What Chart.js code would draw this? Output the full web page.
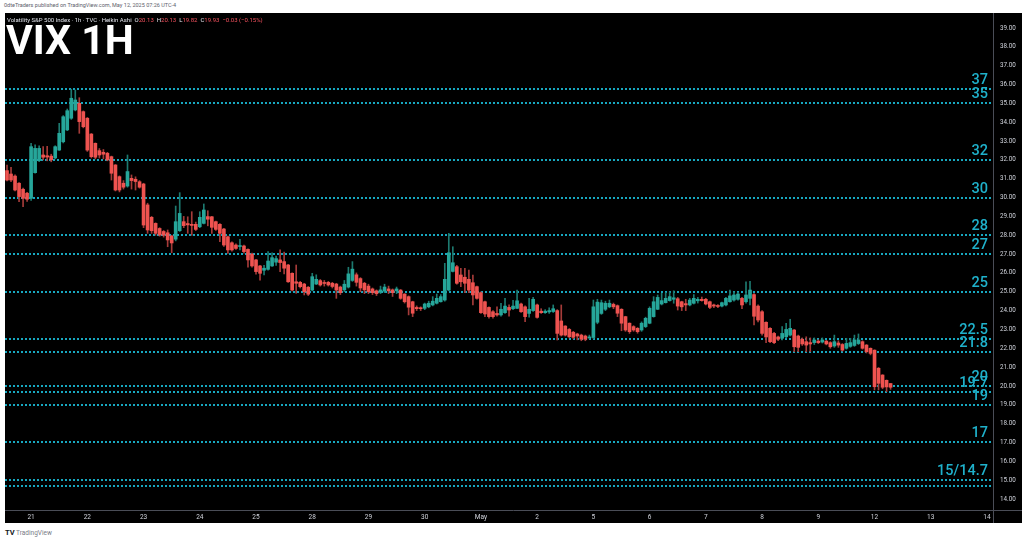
<!DOCTYPE html>
<html>
<head>
<meta charset="utf-8">
<title>VIX 1H</title>
<script src="https://cdn.jsdelivr.net/npm/chart.js@4.4.1/dist/chart.umd.min.js"></script>
<style>
  html, body { margin: 0; padding: 0; background: #fff; }
  body { width: 1024px; height: 541px; position: relative; overflow: hidden; font-family: Roboto, "Noto Sans", sans-serif; }
  #pub { position: absolute; left: 4px; top: 3px; font-size: 5.5px; line-height: 1; color: #5d606b; white-space: nowrap; }
  #frame { position: absolute; left: 5px; top: 13px; width: 1017px; height: 510px; background: #000; }
  #vix { position: absolute; left: -1px; top: 1px; }
  #legend { position: absolute; left: 7px; top: 17px; font-size: 6px; line-height: 1; color: #e0e3eb; white-space: nowrap; }
  #legend .v { color: #f7525f; }
  #title { position: absolute; left: 6px; top: 20px; font-size: 41px; line-height: 1; font-weight: 700; color: #fff; }
  #brand { position: absolute; left: 5px; top: 529px; font-size: 6.5px; line-height: 1; color: #787b86; white-space: nowrap; }
  #brand b { color: #131722; font-size: 7.5px; }
</style>
</head>
<body>
<div id="pub">0dteTraders published on TradingView.com, May 12, 2025 07:26 UTC-4</div>
<div id="frame"></div>
<canvas id="vix" width="1023" height="522"></canvas>
<div id="legend">Volatility S&amp;P 500 Index · 1h · TVC · Heikin Ashi &nbsp;O<span class="v">20.13</span> &nbsp;H<span class="v">20.13</span> &nbsp;L<span class="v">19.82</span> &nbsp;C<span class="v">19.93</span> &nbsp;<span class="v">−0.03 (−0.15%)</span></div>
<div id="title">VIX 1H</div>
<div id="brand"><b>TV</b> TradingView</div>
<script>
// heikin ashi hourly bars (index 6 = Apr 21 first bar)
var openVals = [
  31.43,31.25,31.14,30.76,30.44,30.23,29.96,31.32,31.96,32.26,
  32.22,32.20,32.10,32.52,32.96,33.59,34.21,34.65,35.00,34.56,
  34.21,33.37,32.88,32.49,32.40,32.35,32.17,31.73,31.11,30.76,
  30.61,31.02,30.97,30.84,30.72,29.61,28.95,28.63,28.36,28.20,
  28.13,27.96,27.79,28.24,28.72,28.62,28.58,28.58,28.45,28.63,
  28.99,28.98,28.72,28.58,28.33,27.92,27.60,27.48,27.40,27.43,
  27.25,27.00,26.69,26.37,26.14,26.19,26.37,26.57,26.69,26.60,
  26.42,25.98,25.53,25.50,25.41,25.24,25.09,25.41,25.59,25.48,
  25.50,25.45,25.41,25.25,25.10,25.25,25.60,25.90,25.70,25.45,
  25.30,25.15,25.05,24.97,25.03,25.15,25.10,25.05,25.09,24.88,
  24.74,24.47,24.17,24.13,24.12,24.20,24.30,24.39,24.47,24.56,
  25.09,26.08,26.33,25.89,25.77,25.66,25.48,25.27,24.95,24.47,
  24.17,23.94,23.85,23.77,23.89,24.17,24.10,24.12,24.35,24.20,
  23.85,24.00,24.30,23.97,23.89,23.93,23.95,24.00,23.45,23.18,
  23.00,22.85,22.76,22.70,22.65,22.55,22.57,23.38,23.85,24.07,
  24.20,24.33,24.26,24.07,23.68,23.33,23.15,23.06,22.97,23.15,
  23.33,23.68,24.07,24.35,24.42,24.53,24.60,24.63,24.47,24.37,
  24.30,24.39,24.52,24.60,24.60,24.47,24.30,24.27,24.24,24.30,
  24.47,24.56,24.60,24.65,24.47,24.65,24.85,24.24,23.94,23.38,
  23.06,22.79,22.60,22.53,22.61,22.70,22.97,22.65,22.48,22.35,
  22.30,22.30,22.38,22.33,22.38,22.30,22.12,22.28,22.20,22.00,
  22.10,22.15,22.25,22.35,22.17,22.00,21.90,20.94,20.58,20.30,
  20.13
];
var highVals = [
  31.73,31.60,31.20,30.80,30.50,30.28,32.88,32.80,32.75,32.70,
  32.72,32.30,32.75,33.94,34.35,34.70,35.75,35.71,35.30,34.60,
  34.25,33.40,32.90,32.60,32.55,32.40,32.20,31.75,31.15,30.90,
  32.26,31.20,31.10,30.90,30.76,29.70,29.00,28.66,28.40,28.25,
  28.28,28.00,29.55,30.26,29.00,28.98,29.25,28.70,29.25,29.66,
  29.30,29.00,28.75,28.62,28.36,27.95,27.65,27.55,27.78,27.48,
  27.28,27.05,26.72,26.40,26.40,27.13,27.07,26.90,27.22,27.10,
  26.45,26.00,26.42,25.55,25.45,25.28,25.98,25.90,25.65,25.60,
  25.55,25.50,25.45,25.30,25.60,26.30,26.60,26.00,25.75,25.50,
  25.40,25.20,25.10,25.30,25.40,25.30,25.15,25.25,25.12,24.90,
  24.78,24.50,24.25,24.20,24.40,24.50,24.74,24.88,24.85,26.51,
  28.10,27.39,26.40,26.25,26.25,26.15,25.89,25.30,25.00,24.50,
  24.20,24.00,24.20,24.39,24.65,24.30,24.55,25.09,24.40,24.25,
  24.65,24.70,24.35,24.10,24.05,24.15,24.30,24.05,24.30,23.20,
  23.05,22.90,22.80,22.75,22.70,22.70,24.56,24.60,24.56,24.50,
  24.56,24.40,24.30,24.10,23.70,23.35,23.20,23.10,23.40,23.65,
  24.20,24.74,24.83,24.92,24.95,25.00,25.05,24.70,24.50,24.60,
  24.65,24.85,24.70,24.72,24.65,24.50,24.35,24.32,24.45,24.70,
  25.09,25.00,24.95,24.70,25.53,25.55,24.90,24.30,24.00,23.40,
  23.10,22.85,22.65,23.15,23.33,23.54,23.00,22.70,22.55,22.61,
  22.55,22.55,22.45,22.55,22.42,22.35,22.70,22.40,22.25,22.53,
  22.53,22.70,22.76,22.40,22.20,22.02,21.92,20.98,20.60,20.32,
  20.13
];
var lowVals = [
  30.88,30.84,30.35,29.78,29.51,29.80,29.85,31.30,31.90,32.00,
  31.95,31.90,32.05,32.50,32.90,33.55,34.15,34.60,33.41,33.70,
  32.45,32.10,32.05,32.10,32.05,31.95,30.93,30.35,30.30,30.45,
  30.55,30.45,30.40,30.50,28.40,28.10,28.10,28.00,27.95,27.90,
  27.39,27.07,27.70,28.20,28.40,28.10,28.00,28.25,28.40,28.60,
  28.50,28.10,28.25,27.66,27.40,27.04,27.15,27.25,27.22,27.05,
  26.30,26.30,25.93,25.62,25.90,26.15,26.35,26.40,26.07,25.95,
  25.50,25.05,24.92,25.20,24.83,24.80,25.05,25.38,25.30,25.30,
  25.30,25.20,24.65,24.85,25.00,25.20,25.55,25.30,25.00,24.90,
  24.90,24.85,24.80,24.90,24.95,24.90,24.75,24.90,24.60,24.40,
  23.77,23.68,24.00,24.00,24.05,24.15,24.25,24.35,24.45,24.50,
  25.05,26.05,25.40,25.27,24.95,24.95,24.30,24.60,23.85,23.68,
  23.60,23.60,23.70,23.70,23.85,23.70,24.05,24.10,23.90,23.41,
  23.65,23.95,23.60,23.85,23.85,23.85,23.90,22.44,22.65,22.65,
  22.55,22.50,22.45,22.40,22.40,22.50,22.50,23.30,23.80,24.00,
  24.15,24.10,23.68,22.93,22.90,22.79,22.90,22.80,22.90,23.10,
  23.30,23.65,24.05,24.30,24.40,24.50,24.39,24.03,24.00,24.00,
  24.25,24.35,24.40,24.50,24.30,24.10,24.15,24.15,24.20,24.25,
  24.45,24.50,24.55,24.10,24.40,24.30,23.24,23.40,22.70,22.30,
  22.30,22.25,22.40,22.45,22.55,22.65,21.82,21.82,22.15,21.82,
  21.82,22.20,22.25,22.28,22.18,22.00,22.05,22.05,21.85,21.95,
  22.05,22.10,22.20,21.95,21.75,21.65,19.79,19.79,19.85,19.70,
  19.82
];
var closeVals = [
  30.93,30.93,30.40,30.05,29.96,29.91,32.70,32.61,32.61,32.14,
  32.15,32.00,32.70,33.41,34.29,34.61,35.27,35.18,34.03,33.76,
  32.52,32.17,32.14,32.26,32.30,32.00,31.29,30.40,30.40,30.55,
  31.38,30.90,30.85,30.55,28.54,28.28,28.24,28.10,28.01,28.00,
  27.75,27.59,28.72,29.16,28.51,28.55,28.52,28.31,28.95,29.34,
  28.85,28.42,28.31,28.10,27.48,27.22,27.22,27.30,27.45,27.13,
  26.69,26.37,26.07,25.98,26.25,26.63,26.81,26.76,26.55,26.25,
  25.53,25.09,25.45,25.27,25.00,24.87,25.80,25.66,25.36,25.44,
  25.36,25.28,25.09,24.95,25.40,25.95,26.20,25.50,25.20,25.10,
  25.00,24.95,24.90,25.10,25.25,25.05,24.95,25.15,24.65,24.47,
  24.18,23.86,24.10,24.10,24.35,24.39,24.50,24.65,24.74,25.66,
  27.07,26.54,25.45,25.53,25.45,25.09,24.83,24.65,23.89,23.82,
  23.68,23.68,23.77,24.07,24.24,24.03,24.24,24.52,23.94,23.68,
  24.07,24.60,23.64,23.89,23.97,24.00,24.10,22.79,22.70,22.70,
  22.61,22.58,22.65,22.48,22.48,22.60,24.20,24.45,24.42,24.39,
  24.39,24.20,23.86,23.33,22.97,22.88,22.97,22.88,23.33,23.59,
  24.12,24.47,24.70,24.53,24.65,24.74,24.68,24.24,24.20,24.30,
  24.56,24.65,24.60,24.53,24.35,24.17,24.24,24.22,24.42,24.65,
  24.78,24.83,24.88,24.30,24.83,25.09,23.70,23.50,22.79,22.60,
  22.35,22.30,22.48,22.79,23.00,23.06,22.08,22.05,22.23,22.17,
  22.23,22.44,22.30,22.44,22.23,22.08,22.35,22.17,21.90,22.26,
  22.30,22.44,22.44,22.00,21.82,21.73,19.96,20.14,19.93,19.95,
  19.93
];

// time axis: bar slot where each session starts
var slotCount = 246;
var dayStarts = [6, 20, 34, 48, 62, 76, 90, 104, 118, 132, 146, 160, 174, 188, 202, 216, 230, 244];
var dayNames = ['21', '22', '23', '24', '25', '28', '29', '30', 'May', '2', '5', '6', '7', '8', '9', '12', '13', '14'];

// drawn levels and their tags
var levelValues = [35.75, 35, 32, 30, 28, 27, 25, 22.5, 21.8, 20, 19.7, 19, 17, 15, 14.7, 12.5];
var levelTexts = ['37', '35', '32', '30', '28', '27', '25', '22.5', '21.8', '20', '19.7', '19', '17', '15/14.7', '', '12.5'];

var upColor = '#26a69a', downColor = '#ef5350';
var upWick = '#1d7a70', downWick = '#a53b39';
var cyan = '#17a8c0';

var slots = [];
for (var s = 0; s < slotCount; s++) slots.push(s);

var wicks = lowVals.map(function (l, i) { return [l, highVals[i]]; });
var bodies = openVals.map(function (o, i) { return [o, closeVals[i]]; });
var bodyColors = openVals.map(function (o, i) { return closeVals[i] >= o ? upColor : downColor; });
var wickColors = openVals.map(function (o, i) { return closeVals[i] >= o ? upWick : downWick; });

var levelPlugin = {
  id: 'levels',
  beforeDatasetsDraw: function (chart) {
    var ctx = chart.ctx, a = chart.chartArea, y = chart.scales.y;
    ctx.save();
    ctx.beginPath();
    ctx.rect(a.left, a.top, a.right - a.left, a.bottom - a.top);
    ctx.clip();
    ctx.strokeStyle = cyan;
    ctx.lineWidth = 2;
    ctx.setLineDash([2, 2]);
    levelValues.forEach(function (v) {
      var py = Math.round(y.getPixelForValue(v));
      ctx.beginPath();
      ctx.moveTo(a.left, py);
      ctx.lineTo(a.right, py);
      ctx.stroke();
    });
    ctx.restore();
  },
  afterDatasetsDraw: function (chart) {
    var ctx = chart.ctx, a = chart.chartArea, y = chart.scales.y;
    ctx.save();
    ctx.beginPath();
    ctx.rect(a.left, a.top, a.right - a.left, a.bottom - a.top);
    ctx.clip();
    ctx.font = '500 14.5px Roboto';
    ctx.fillStyle = '#1fb1cb';
    ctx.textAlign = 'right';
    ctx.textBaseline = 'alphabetic';
    levelValues.forEach(function (v, i) {
      if (!levelTexts[i]) return;
      var py = Math.round(y.getPixelForValue(v));
      ctx.fillText(levelTexts[i], a.right - 5, py - 5);
    });
    ctx.restore();
  },
  afterDraw: function (chart) {
    var ctx = chart.ctx, a = chart.chartArea;
    ctx.save();
    ctx.strokeStyle = '#4a4d57';
    ctx.lineWidth = 1;
    ctx.beginPath();
    ctx.moveTo(a.right + 0.5, a.top);
    ctx.lineTo(a.right + 0.5, chart.height);
    ctx.moveTo(a.left, a.bottom + 0.5);
    ctx.lineTo(chart.width, a.bottom + 0.5);
    ctx.stroke();
    ctx.restore();
  }
};

var ctxi = document.getElementById('vix');

var vixChart = new Chart(ctxi, {
  type: 'bar',
  data: {
    labels: slots,
    datasets: [{
      label: 'wick',
      data: wicks,
      backgroundColor: wickColors,
      barThickness: 1,
      grouped: false,
      order: 2
    }, {
      label: 'body',
      data: bodies,
      backgroundColor: bodyColors,
      barThickness: 3,
      minBarLength: 1,
      grouped: false,
      order: 1
    }]
  },
  options: {
    responsive: false,
    animation: false,
    layout: { padding: { left: 6, top: 12, right: 0, bottom: 0 } },
    plugins: { legend: { display: false }, tooltip: { enabled: false } },
    scales: {
      x: {
        grid: { display: false, drawTicks: false },
        border: { display: false },
        ticks: {
          autoSkip: false,
          maxRotation: 0,
          padding: 3,
          color: '#d1d4dc',
          font: { family: 'Roboto', size: 6.5 },
          callback: function (v, i) {
            var k = dayStarts.indexOf(i);
            return k < 0 ? null : dayNames[k];
          }
        },
        afterFit: function (scale) { scale.height = 13; }
      },
      y: {
        position: 'right',
        min: 13.416,
        max: 39.796,
        grid: { display: false, drawTicks: false },
        border: { display: false },
        ticks: {
          stepSize: 1,
          includeBounds: false,
          crossAlign: 'near',
          padding: 7,
          color: '#d1d4dc',
          font: { family: 'Roboto', size: 6.3 },
          callback: function (v) { return v.toFixed(2); }
        },
        afterFit: function (scale) { scale.width = 29; }
      }
    }
  },
  plugins: [levelPlugin]
});
</script>
</body>
</html>
